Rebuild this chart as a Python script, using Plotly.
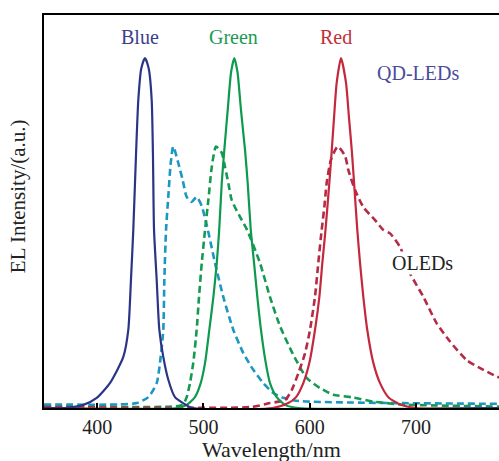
import plotly.graph_objects as go

# ---- data (wavelength nm, EL intensity a.u.) ----
qd_blue_wl = [350, 370, 387, 399.6, 412, 424.6, 429.3, 431.8, 434, 436.5, 438.7, 441.5, 445, 448.5, 451.3, 452.5, 453.5, 456, 458.5, 462.2, 467, 473.2, 480.8, 490, 780]
qd_blue_i = [0, 0, 0.009, 0.029, 0.071, 0.146, 0.223, 0.366, 0.509, 0.72, 0.88, 0.97, 1.0, 0.97, 0.88, 0.72, 0.509, 0.366, 0.223, 0.146, 0.08, 0.031, 0.014, 0, 0]

qd_green_wl = [350, 475, 484.2, 492.0, 497.4, 501.5, 505.5, 509.3, 512.5, 514.8, 517.2, 519.6, 522.8, 526, 529.0, 532, 535.3, 539.1, 541.6, 544.5, 547.6, 550.7, 554.1, 558.6, 562.6, 568.9, 576.7, 590, 780]
qd_green_i = [0, 0, 0.009, 0.031, 0.071, 0.129, 0.223, 0.317, 0.414, 0.509, 0.643, 0.737, 0.851, 0.96, 1.0, 0.96, 0.851, 0.737, 0.643, 0.509, 0.414, 0.317, 0.223, 0.129, 0.071, 0.031, 0.009, 0, 0]

qd_red_wl = [350, 565, 579.8, 587.1, 593.9, 599.6, 604.9, 609.0, 611.8, 614.8, 618.4, 620.7, 622.8, 625.3, 629.4, 634.1, 636.9, 639.5, 641.7, 644.7, 647.3, 650.4, 654.1, 659.8, 666.1, 673.9, 685, 700, 780]
qd_red_i = [0, 0, 0.014, 0.031, 0.071, 0.129, 0.223, 0.317, 0.414, 0.509, 0.643, 0.737, 0.829, 0.929, 1.0, 0.929, 0.829, 0.737, 0.643, 0.509, 0.414, 0.317, 0.223, 0.129, 0.071, 0.031, 0.01, 0, 0]

oled_blue_wl = [350, 420, 437.2, 448.1, 456.0, 459.1, 462.2, 463.2, 464.8, 466.9, 469.2, 471.6, 476.3, 480.5, 484.2, 488.9, 493.6, 498.4, 502.4, 505.5, 510.9, 518.7, 528.1, 537.5, 546.9, 556.3, 565.7, 575.1, 590, 780]
oled_blue_i = [0.01, 0.01, 0.014, 0.031, 0.071, 0.129, 0.223, 0.366, 0.509, 0.603, 0.7, 0.747, 0.7, 0.651, 0.603, 0.589, 0.603, 0.577, 0.531, 0.49, 0.414, 0.317, 0.223, 0.157, 0.109, 0.071, 0.043, 0.029, 0.02, 0.012]

oled_green_wl = [350, 470, 480.5, 484.2, 487.3, 490.4, 493.6, 495.8, 498.4, 501.5, 504.6, 507.8, 511.8, 517.2, 520.3, 523.4, 526.6, 534.4, 541, 553.2, 562.6, 572, 584.5, 597.1, 609.6, 622.2, 641, 659.8, 672.4, 685, 780]
oled_green_i = [0.004, 0.004, 0.009, 0.031, 0.071, 0.129, 0.223, 0.317, 0.414, 0.509, 0.594, 0.688, 0.747, 0.729, 0.688, 0.643, 0.594, 0.546, 0.509, 0.414, 0.317, 0.234, 0.152, 0.086, 0.057, 0.038, 0.03, 0.018, 0.014, 0.01, 0.004]

oled_red_wl = [350, 545, 562.6, 576.7, 583, 589.2, 595.5, 600.2, 604.9, 608, 611.2, 613.7, 615.9, 620, 626.3, 633.2, 636.3, 642.6, 650.4, 661.4, 669.2, 675.5, 684.9, 694.3, 706.8, 719.4, 731.9, 747.6, 763.3, 775.9, 780]
oled_red_i = [0.003, 0.003, 0.014, 0.023, 0.051, 0.099, 0.156, 0.223, 0.318, 0.414, 0.509, 0.574, 0.643, 0.71, 0.747, 0.72, 0.68, 0.623, 0.574, 0.537, 0.509, 0.499, 0.46, 0.385, 0.318, 0.242, 0.19, 0.137, 0.109, 0.09, 0.086]

x_ticks = [400, 500, 600, 700]

SERIF = "Liberation Serif, Times New Roman, serif"

fig = go.Figure()

def add(wl, vals, color, dash=None, width=2.0):
    fig.add_trace(go.Scatter(
        x=wl, y=vals, mode="lines",
        line=dict(color=color, width=width, dash=dash, shape="spline", smoothing=0.6),
        hoverinfo="skip", showlegend=False))

add(oled_blue_wl, oled_blue_i, "#1b97c2", dash="7px,4px", width=2.6)
add(oled_green_wl, oled_green_i, "#169a52", dash="7px,4px", width=2.6)
add(oled_red_wl, oled_red_i, "#b52a45", dash="7px,4px", width=2.6)
add(qd_green_wl, qd_green_i, "#0e9a4e", width=2.2)
add(qd_red_wl, qd_red_i, "#c4283c", width=2.2)
add(qd_blue_wl, qd_blue_i, "#2b3585", width=2.2)

def label(text, x, y, color, bg=None):
    fig.add_annotation(x=x, y=y, xref="x", yref="y", text=text, showarrow=False,
                       font=dict(family=SERIF, size=20, color=color),
                       bgcolor=bg, borderpad=0)

label("Blue", 440.3, 1.06, "#3c3f8c")
label("Green", 527.8, 1.06, "#1e9a55")
label("Red", 624.7, 1.06, "#c03038")
label("QD-LEDs", 701.8, 0.957, "#4b4b9b")
label("OLEDs", 706.5, 0.414, "#222222", bg="white")

# axis titles as paper annotations for exact placement
fig.add_annotation(x=0.499, y=0, xref="paper", yref="paper", yshift=-41,
                   text="Wavelength/nm", showarrow=False, yanchor="middle",
                   font=dict(family=SERIF, size=22, color="#222"))
fig.add_annotation(x=0, y=0.539, xref="paper", yref="paper", xshift=-26,
                   text="EL Intensity/(a.u.)", showarrow=False, textangle=-90,
                   xanchor="center", yanchor="middle",
                   font=dict(family=SERIF, size=21, color="#222"))

fig.update_layout(
    width=499, height=461,
    margin=dict(l=44, r=0, t=15, b=53, autoexpand=False),
    paper_bgcolor="white", plot_bgcolor="white",
    font=dict(family=SERIF, size=19, color="#222"),
    xaxis=dict(range=[350, 778], tickvals=x_ticks, ticktext=[str(v) for v in x_ticks],
               ticks="inside", ticklen=5, tickwidth=1.5, tickcolor="black",
               showline=True, linecolor="black", linewidth=2, mirror=True,
               showgrid=False, zeroline=False, automargin=False,
               tickfont=dict(family=SERIF, size=20, color="#222")),
    yaxis=dict(range=[0, 1.123], showticklabels=False, ticks="",
               showline=True, linecolor="black", linewidth=2, mirror=False,
               showgrid=False, zeroline=False, automargin=False),
)

fig.write_html("out.html", config={"displayModeBar": False},
               post_script="document.body.style.margin='0';document.body.style.overflow='hidden';")
